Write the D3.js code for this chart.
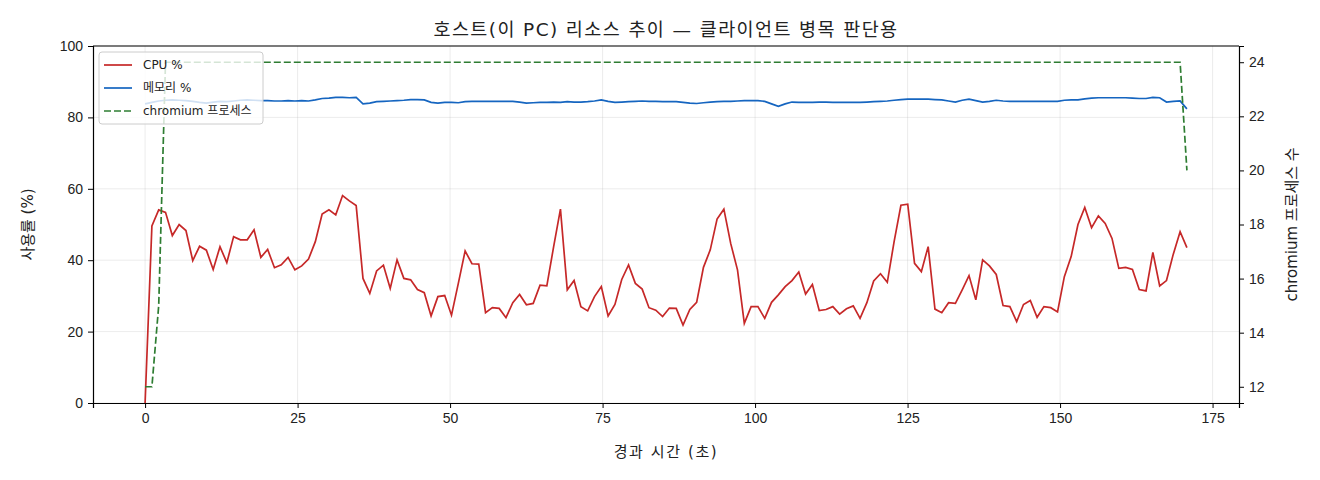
<!DOCTYPE html>
<html>
<head>
<meta charset="utf-8">
<script src="https://cdn.jsdelivr.net/npm/d3@7"></script>
<style>
  body { margin: 0; background: #fff; }
  svg { font-family: "DejaVu Sans", "Noto Sans CJK KR", sans-serif; }
  .tick text { font-size: 14px; fill: #222; }
  .domain, .tick line { stroke: #000; }
</style>
</head>
<body>
<div id="plothere"></div>
<script>
// sampling interval (s) between host samples
var sampleSec = 1.1163;

var cpu = [0, 49.6, 54.1, 53.4, 46.9, 50.0, 48.3, 39.9, 43.9, 42.8,
  37.4, 43.8, 39.3, 46.6, 45.7, 45.7, 48.5, 40.8, 43.0, 37.9,
  38.7, 40.8, 37.3, 38.4, 40.3, 45.2, 52.9, 54.1, 52.7, 58.1,
  56.6, 55.3, 34.9, 30.7, 37.0, 38.6, 32.1, 40.1, 34.9, 34.5,
  31.8, 30.9, 24.4, 29.8, 30.1, 24.6, 33.5, 42.6, 39.0, 38.9,
  25.3, 26.7, 26.5, 23.9, 28.1, 30.4, 27.5, 27.9, 33.0, 32.8,
  43.8, 54.3, 31.7, 34.3, 27.0, 25.8, 29.8, 32.6, 24.4, 27.6,
  34.6, 38.7, 33.5, 31.9, 26.7, 26.0, 24.2, 26.6, 26.5, 21.8,
  26.2, 28.2, 38.0, 42.9, 51.5, 54.3, 44.7, 37.3, 22.3, 27.0,
  27.0, 23.7, 28.2, 30.3, 32.6, 34.3, 36.7, 30.5, 33.2, 25.9,
  26.2, 27.0, 24.9, 26.4, 27.2, 23.7, 28.1, 34.2, 36.2, 33.8,
  45.2, 55.4, 55.7, 39.1, 36.8, 43.8, 26.3, 25.3, 28.1, 27.9,
  31.7, 35.7, 28.9, 40.1, 38.4, 36.0, 27.3, 27.0, 22.8, 27.6,
  28.7, 24.0, 27.0, 26.7, 25.5, 35.4, 41.0, 50.0, 54.8, 49.1,
  52.4, 50.3, 46.1, 37.7, 38.0, 37.4, 31.8, 31.4, 42.2, 32.8,
  34.3, 41.7, 48.0, 43.5];

var mem = [83.8, 84.2, 84.6, 84.8, 84.9, 84.8, 84.7, 84.5, 84.2, 84.0,
  84.3, 84.5, 84.4, 84.6, 84.8, 84.9, 84.8, 84.7, 84.7, 84.6,
  84.6, 84.7, 84.6, 84.7, 84.6, 84.9, 85.3, 85.4, 85.6, 85.6,
  85.5, 85.6, 83.8, 84.0, 84.4, 84.5, 84.6, 84.7, 84.8, 85.0,
  85.0, 84.9, 84.2, 84.0, 84.2, 84.2, 84.1, 84.4, 84.5, 84.5,
  84.5, 84.5, 84.5, 84.5, 84.5, 84.3, 84.0, 84.1, 84.2, 84.2,
  84.3, 84.2, 84.4, 84.3, 84.3, 84.4, 84.6, 84.9, 84.5, 84.2,
  84.3, 84.4, 84.5, 84.6, 84.5, 84.5, 84.4, 84.4, 84.4, 84.2,
  84.0, 83.9, 84.1, 84.3, 84.4, 84.5, 84.5, 84.6, 84.7, 84.7,
  84.7, 84.5, 83.8, 83.1, 83.8, 84.3, 84.2, 84.2, 84.2, 84.3,
  84.3, 84.2, 84.2, 84.2, 84.2, 84.2, 84.3, 84.4, 84.5, 84.6,
  84.8, 85.0, 85.1, 85.1, 85.1, 85.1, 85.0, 84.9, 84.6, 84.3,
  84.8, 85.1, 84.7, 84.3, 84.5, 84.8, 84.6, 84.5, 84.5, 84.5,
  84.5, 84.5, 84.5, 84.5, 84.5, 84.8, 84.9, 84.9, 85.2, 85.4,
  85.5, 85.5, 85.5, 85.5, 85.5, 85.4, 85.3, 85.3, 85.6, 85.5,
  84.3, 84.5, 84.6, 82.4];

var procs = [12, 12, 15, 24, 24, 24, 24, 24, 24, 24,
  24, 24, 24, 24, 24, 24, 24, 24, 24, 24,
  24, 24, 24, 24, 24, 24, 24, 24, 24, 24,
  24, 24, 24, 24, 24, 24, 24, 24, 24, 24,
  24, 24, 24, 24, 24, 24, 24, 24, 24, 24,
  24, 24, 24, 24, 24, 24, 24, 24, 24, 24,
  24, 24, 24, 24, 24, 24, 24, 24, 24, 24,
  24, 24, 24, 24, 24, 24, 24, 24, 24, 24,
  24, 24, 24, 24, 24, 24, 24, 24, 24, 24,
  24, 24, 24, 24, 24, 24, 24, 24, 24, 24,
  24, 24, 24, 24, 24, 24, 24, 24, 24, 24,
  24, 24, 24, 24, 24, 24, 24, 24, 24, 24,
  24, 24, 24, 24, 24, 24, 24, 24, 24, 24,
  24, 24, 24, 24, 24, 24, 24, 24, 24, 24,
  24, 24, 24, 24, 24, 24, 24, 24, 24, 24,
  24, 24, 24, 20];

var xTicks = [0, 25, 50, 75, 100, 125, 150, 175];
var yTicks = [0, 20, 40, 60, 80, 100];
var y2Ticks = [12, 14, 16, 18, 20, 22, 24];

var series = [
  {name: "CPU %", values: cpu, color: "#c62828", dash: null, axis: "left"},
  {name: "메모리 %", values: mem, color: "#1565c0", dash: null, axis: "left"},
  {name: "chromium 프로세스", values: procs, color: "#2e7d32", dash: "7,3", axis: "right"}
];

var margin = {top: 46, right: 81, bottom: 77, left: 93},
    width = 1320 - margin.left - margin.right,
    height = 480 - margin.top - margin.bottom;

var svg = d3.select("#plothere")
  .append("svg")
    .attr("width", 1320)
    .attr("height", 480)
  .append("g")
    .attr("transform", "translate(" + margin.left + "," + margin.top + ")");

var tEnd = (cpu.length - 1) * sampleSec,
    pad = tEnd * 0.05;
var xs = d3.scaleLinear()
  .domain([-pad, tEnd + pad])
  .range([0, width]);
var ys = d3.scaleLinear()
  .domain([0, 100])
  .range([height, 0]);
var pMin = d3.min(procs), pMax = d3.max(procs), pPad = (pMax - pMin) * 0.05;
var ys2 = d3.scaleLinear()
  .domain([pMin - pPad, pMax + pPad])
  .range([height, 0]);

// grid
svg.append("g").selectAll("line")
  .data(xTicks).enter().append("line")
    .attr("x1", d => xs(d)).attr("x2", d => xs(d))
    .attr("y1", 0).attr("y2", height)
    .attr("stroke", "#b0b0b0").attr("stroke-opacity", 0.3).attr("stroke-width", 0.8);
svg.append("g").selectAll("line")
  .data(yTicks).enter().append("line")
    .attr("x1", 0).attr("x2", width)
    .attr("y1", d => ys(d)).attr("y2", d => ys(d))
    .attr("stroke", "#b0b0b0").attr("stroke-opacity", 0.3).attr("stroke-width", 0.8);

// lines
series.forEach(function(s) {
  var yScale = s.axis == "left" ? ys : ys2;
  var line = d3.line()
    .x((d, i) => xs(i * sampleSec))
    .y(d => yScale(d));
  svg.append("path")
    .datum(s.values)
    .attr("fill", "none")
    .attr("stroke", s.color)
    .attr("stroke-width", 1.7)
    .attr("stroke-dasharray", s.dash)
    .attr("d", line);
});

// axes
svg.append("g")
  .attr("transform", "translate(0," + height + ")")
  .call(d3.axisBottom(xs).tickValues(xTicks).tickSize(5).tickPadding(5));
svg.append("g")
  .call(d3.axisLeft(ys).tickValues(yTicks).tickSize(5).tickPadding(5));
svg.append("g")
  .attr("transform", "translate(" + width + ",0)")
  .call(d3.axisRight(ys2).tickValues(y2Ticks).tickSize(5).tickPadding(5));
svg.append("line")
  .attr("x1", 0).attr("x2", width).attr("y1", 0).attr("y2", 0)
  .attr("stroke", "#000");
svg.selectAll(".domain").attr("stroke-width", 1.2);

// labels
svg.append("text")
  .attr("x", width / 2).attr("y", -10)
  .attr("text-anchor", "middle")
  .style("font-size", "18.5px").style("letter-spacing", "1.4px").attr("fill", "#222")
  .text("호스트(이 PC) 리소스 추이 — 클라이언트 병목 판단용");
svg.append("text")
  .attr("x", width / 2).attr("y", height + 54)
  .attr("text-anchor", "middle")
  .style("font-size", "15px").style("letter-spacing", "1.6px").attr("fill", "#222")
  .text("경과 시간 (초)");
svg.append("text")
  .attr("transform", "translate(-60," + height / 2 + ") rotate(-90)")
  .attr("text-anchor", "middle")
  .style("font-size", "15px").attr("fill", "#222")
  .text("사용률 (%)");
svg.append("text")
  .attr("transform", "translate(" + (width + 58) + "," + height / 2 + ") rotate(-90)")
  .attr("text-anchor", "middle")
  .style("font-size", "15px").attr("fill", "#222")
  .text("chromium 프로세스 수");

// legend
var lg = svg.append("g").attr("transform", "translate(6,6)");
lg.append("rect")
  .attr("width", 164).attr("height", 72).attr("rx", 3)
  .attr("fill", "#fff").attr("fill-opacity", 0.8)
  .attr("stroke", "#ccc");
series.forEach(function(s, i) {
  var yy = 13 + i * 23;
  lg.append("line")
    .attr("x1", 5).attr("x2", 33).attr("y1", yy).attr("y2", yy)
    .attr("stroke", s.color).attr("stroke-width", 1.7)
    .attr("stroke-dasharray", s.dash);
  lg.append("text")
    .attr("x", 44).attr("y", yy + 4)
    .style("font-size", "12px").attr("fill", "#222")
    .text(s.name);
});
</script>
</body>
</html>
